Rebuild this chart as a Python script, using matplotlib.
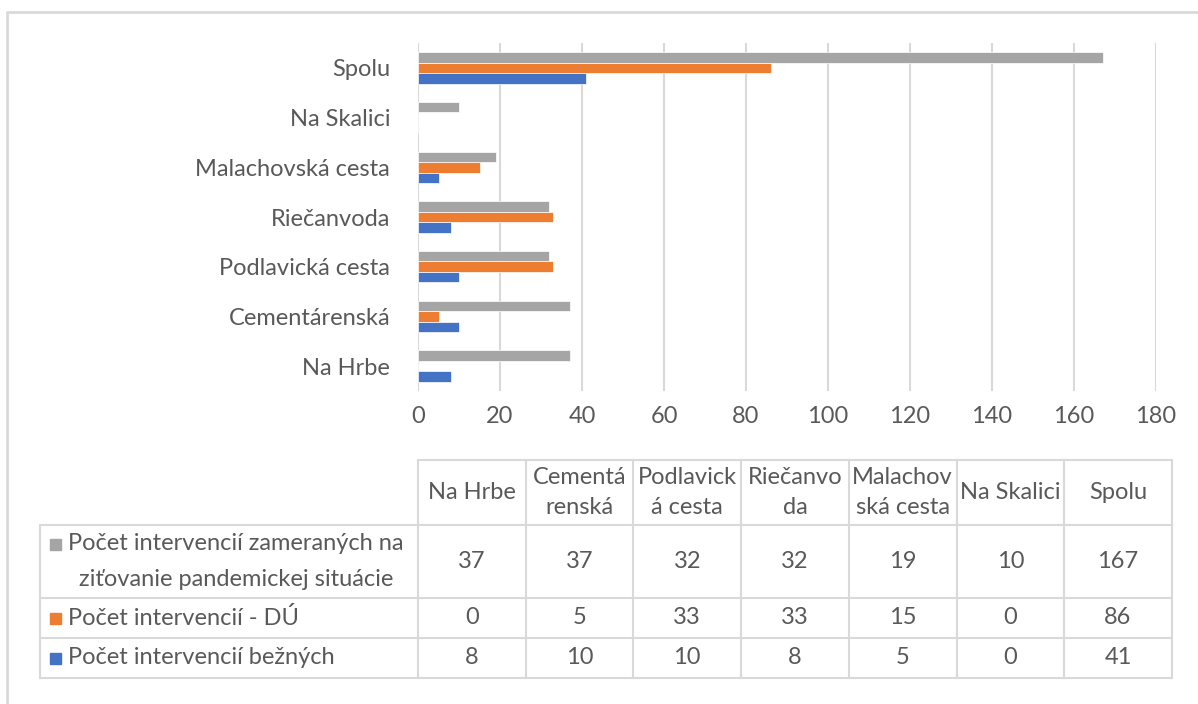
import numpy as np
import matplotlib.pyplot as plt

plt.rcParams['font.family'] = ['Lato', 'DejaVu Sans']

# data
categories = ["Na Hrbe", "Cementárenská", "Podlavická cesta", "Riečanvoda",
              "Malachovská cesta", "Na Skalici", "Spolu"]
table_headers = ["Na Hrbe", "Cementá\nrenská", "Podlavick\ná cesta", "Riečanvo\nda",
                 "Malachov\nská cesta", "Na Skalici", "Spolu"]
pandemic = [37, 37, 32, 32, 19, 10, 167]
du = [0, 5, 33, 33, 15, 0, 86]
bezne = [8, 10, 10, 8, 5, 0, 41]
series_names = ["Počet intervencií zameraných na\nziťovanie pandemickej situácie",
                "Počet intervencií - DÚ",
                "Počet intervencií bežných"]
xticks = [0, 20, 40, 60, 80, 100, 120, 140, 160, 180]

GRAY = "#A5A5A5"
ORANGE = "#ED7D31"
BLUE = "#4472C4"
TXT = "#595959"
LINE = "#D9D9D9"
FS = 17

W, H = 1198, 704
fig = plt.figure(figsize=(W / 100, H / 100), dpi=100)

# chart area
px_l, px_r, px_t, px_b = 418, 1156, 43, 391
ax = fig.add_axes([px_l / W, 1 - px_b / H, (px_r - px_l) / W, (px_b - px_t) / H])
y = np.arange(len(categories))
h = 0.21
ax.barh(y + h, pandemic, height=h, color=GRAY, edgecolor="white", linewidth=0.5, zorder=3)
ax.barh(y, du, height=h, color=ORANGE, edgecolor="white", linewidth=0.5, zorder=3)
ax.barh(y - h, bezne, height=h, color=BLUE, edgecolor="white", linewidth=0.5, zorder=3)
ax.set_xlim(0, 180)
ax.set_ylim(-0.5, len(categories) - 0.5)
ax.set_xticks(xticks)
ax.set_yticks(y)
ax.set_yticklabels(categories)
ax.tick_params(length=0, labelsize=FS, colors=TXT)
ax.tick_params(axis="y", pad=20)
ax.tick_params(axis="x", pad=11)
ax.grid(axis="x", color=LINE, linewidth=1.5, zorder=0)
for s in ax.spines.values():
    s.set_visible(False)

# overlay in pixel coords for border and data table
ov = fig.add_axes([0, 0, 1, 1], zorder=-1)
ov.set_xlim(0, W)
ov.set_ylim(H, 0)
ov.axis("off")
ov.plot([7, 7, W + 5], [H + 5, 12, 12], color=LINE, lw=2)

col_w = 107.7
col_edges = [px_l + i * col_w for i in range(len(categories) + 1)]
row_edges = [460, 525, 598, 638, 678]
lab_l = 40
lc = "#D9D9D9"
# horizontal lines
ov.plot([px_l, col_edges[-1]], [row_edges[0]] * 2, color=lc, lw=1.5)
for r in row_edges[1:]:
    ov.plot([lab_l, col_edges[-1]], [r, r], color=lc, lw=1.5)
# vertical lines
ov.plot([lab_l, lab_l], [row_edges[1], row_edges[-1]], color=lc, lw=1.5)
for c in col_edges:
    ov.plot([c, c], [row_edges[0], row_edges[-1]], color=lc, lw=1.5)

for i, lab in enumerate(table_headers):
    cx = (col_edges[i] + col_edges[i + 1]) / 2
    ov.text(cx, (row_edges[0] + row_edges[1]) / 2, lab, ha="center", va="center",
            fontsize=FS, color=TXT, linespacing=1.55)

colors = [GRAY, ORANGE, BLUE]
values = [pandemic, du, bezne]
for r, (name, col, vals) in enumerate(zip(series_names, colors, values)):
    cy = (row_edges[r + 1] + row_edges[r + 2]) / 2
    key_y = cy - 17 if r == 0 else cy
    ov.add_patch(plt.Rectangle((50, key_y - 5.5), 11, 11, color=col))
    ov.text(68, cy, name, ha="left", va="center", fontsize=FS, color=TXT,
            multialignment="center", linespacing=1.85)
    for i, v in enumerate(vals):
        cx = (col_edges[i] + col_edges[i + 1]) / 2
        ov.text(cx, cy, str(v), ha="center", va="center", fontsize=FS, color=TXT)

fig.savefig("out.png", dpi=100)
